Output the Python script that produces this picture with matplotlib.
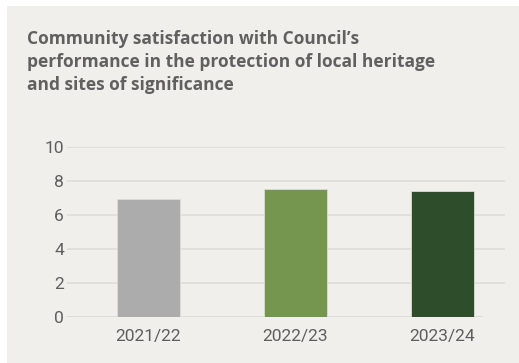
import matplotlib.pyplot as plt
from matplotlib.patches import Rectangle

# Chart data
years = ["2021/22", "2022/23", "2023/24"]
scores = [6.9, 7.5, 7.4]
bar_colors = ["#abacab", "#74964f", "#2d4d2b"]
y_ticks = [0, 2, 4, 6, 8, 10]

title = ("Community satisfaction with Council\u2019s\n"
         "performance in the protection of local heritage\n"
         "and sites of significance")

panel = "#f0efec"
text_col = "#5e5e5e"

fig = plt.figure(figsize=(5.19, 3.63), dpi=100, facecolor="white")
# light panel behind everything, leaving a thin white margin top and left
fig.patches.append(Rectangle((7 / 519, 0), 1, 357 / 363, transform=fig.transFigure,
                             facecolor=panel, edgecolor="none", zorder=-5))

fig.text(27 / 519, 1 - 30 / 363, title, ha="left", va="top",
         fontsize=12.5, fontweight="bold", family="Open Sans", color="#606060",
         linespacing=1.36)

ax = fig.add_axes([66.7 / 519, (363 - 316.7) / 363, (505 - 66.7) / 519, 170 / 363])
ax.set_facecolor("none")
x = range(len(years))
ax.bar(x, scores, width=0.43, color=bar_colors, edgecolor="#dcdcd8", linewidth=0.6, zorder=3)
ax.set_xlim(-0.555, 2.427)
ax.set_ylim(0, 10)

for v in y_ticks[1:]:
    ax.axhline(v, color="#e0dfdb", lw=1.4, zorder=1)
ax.axhline(0, xmax=(2.268 + 0.555) / (2.427 + 0.555), color="#dedcd8", lw=1.4, zorder=1)

for s in ax.spines.values():
    s.set_visible(False)
ax.set_yticks(y_ticks)
ax.set_xticks(list(x))
ax.set_xticklabels(years)
ax.tick_params(length=0, colors=text_col, labelsize=12.5)
ax.tick_params(axis="y", pad=2)
ax.tick_params(axis="x", pad=9)
for lab in ax.get_xticklabels() + ax.get_yticklabels():
    lab.set_family("Roboto")

fig.savefig("out.png", dpi=100, facecolor="white")
